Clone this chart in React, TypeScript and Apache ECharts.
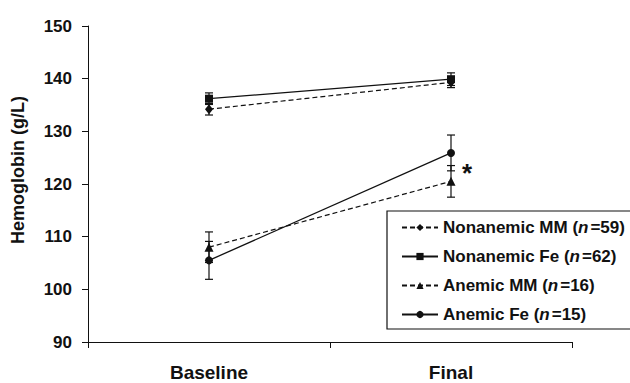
import React, { useEffect, useRef } from 'react';
import * as echarts from 'echarts';

const categories = ['Baseline', 'Final'];
const yMin = 90;
const yMax = 150;
const yInterval = 10;

const seriesLabels = ['Nonanemic MM', 'Nonanemic Fe', 'Anemic MM', 'Anemic Fe'];
const seriesN = [59, 62, 16, 15];

const nonanemicMM = [134.2, 139.3];
const nonanemicMMErr = [1.1, 1.0];
const nonanemicFe = [136.2, 139.9];
const nonanemicFeErr = [1.1, 1.2];
const anemicMM = [108.0, 120.5];
const anemicMMErr = [2.9, 3.0];
const anemicFe = [105.5, 125.9];
const anemicFeErr = [3.6, 3.4];

const FONT = "'Liberation Sans', Arial, Helvetica, sans-serif";
const INK = '#111';

export default function App() {
  const ref = useRef<HTMLDivElement>(null);

  useEffect(() => {
    if (!ref.current) return;
    const chart = echarts.init(ref.current, null, { renderer: 'svg' });

    const groups = [
      { name: seriesLabels[0], values: nonanemicMM, errs: nonanemicMMErr, symbol: 'diamond', size: [8, 10], dashed: true },
      { name: seriesLabels[1], values: nonanemicFe, errs: nonanemicFeErr, symbol: 'rect', size: 8, dashed: false },
      { name: seriesLabels[2], values: anemicMM, errs: anemicMMErr, symbol: 'triangle', size: 9, dashed: true },
      { name: seriesLabels[3], values: anemicFe, errs: anemicFeErr, symbol: 'circle', size: 8, dashed: false },
    ];

    const errData: number[][] = [];
    groups.forEach((g) => {
      g.values.forEach((v, i) => {
        errData.push([i, v - g.errs[i], v + g.errs[i]]);
      });
    });

    const lineSeries = groups.map((g) => ({
      type: 'line',
      name: g.name,
      data: g.values,
      symbol: g.symbol,
      symbolSize: g.size,
      showAllSymbol: true,
      z: 3,
      itemStyle: { color: INK },
      lineStyle: {
        color: INK,
        width: g.dashed ? 1.2 : 1.3,
        type: g.dashed ? [5, 3] : 'solid',
      },
    }));

    const option: any = {
      animation: false,
      backgroundColor: '#fff',
      grid: { left: 88, top: 26, right: 58, bottom: 41 },
      xAxis: {
        type: 'category',
        data: categories,
        boundaryGap: true,
        axisLine: { lineStyle: { color: INK, width: 1 } },
        axisTick: { show: true, length: 6, lineStyle: { color: INK } },
        axisLabel: {
          margin: 21,
          color: INK,
          fontFamily: FONT,
          fontWeight: 'bold',
          fontSize: 19,
        },
        splitLine: { show: false },
      },
      yAxis: {
        type: 'value',
        min: yMin,
        max: yMax,
        interval: yInterval,
        axisLine: { show: true, lineStyle: { color: INK, width: 1 } },
        axisTick: { show: true, length: 6, lineStyle: { color: INK } },
        axisLabel: {
          margin: 16,
          color: INK,
          fontFamily: FONT,
          fontWeight: 'bold',
          fontSize: 17,
        },
        splitLine: { show: false },
      },
      legend: {
        data: seriesLabels,
        orient: 'vertical',
        left: 387,
        top: 211,
        padding: [8, 30, 6, 14],
        itemWidth: 36,
        itemHeight: 9,
        itemGap: 12,
        borderColor: INK,
        borderWidth: 1.2,
        backgroundColor: '#fff',
        selectedMode: false,
        formatter: (name: string) => {
          const idx = seriesLabels.indexOf(name);
          return `{b|${name} (}{i|n}{b|=${seriesN[idx]})}`;
        },
        textStyle: {
          color: INK,
          fontFamily: FONT,
          fontWeight: 'bold',
          fontSize: 17,
          rich: {
            b: { color: INK, fontFamily: FONT, fontWeight: 'bold', fontSize: 17 },
            i: { color: INK, fontFamily: FONT, fontWeight: 'bold', fontStyle: 'italic', fontSize: 17, padding: [0, 2, 0, 0] },
          },
        },
      },
      graphic: [
        {
          type: 'text',
          x: 18,
          y: 170,
          rotation: Math.PI / 2,
          style: {
            text: 'Hemoglobin (g/L)',
            fill: INK,
            font: `bold 18px ${FONT}`,
            textAlign: 'center',
            textVerticalAlign: 'middle',
          },
        },
        {
          type: 'text',
          x: 467,
          y: 173,
          style: {
            text: '*',
            fill: INK,
            font: `bold 26px ${FONT}`,
            textAlign: 'center',
            textVerticalAlign: 'middle',
          },
        },
      ],
      series: [
        {
          type: 'custom',
          name: 'errors',
          data: errData,
          z: 2,
          encode: { x: 0, y: [1, 2] },
          renderItem: (params: any, api: any) => {
            const x = api.value(0);
            const pLo = api.coord([x, api.value(1)]);
            const pHi = api.coord([x, api.value(2)]);
            const hw = 4;
            const style = { stroke: INK, lineWidth: 1.2 };
            return {
              type: 'group',
              children: [
                { type: 'line', shape: { x1: pLo[0], y1: pLo[1], x2: pHi[0], y2: pHi[1] }, style },
                { type: 'line', shape: { x1: pLo[0] - hw, y1: pLo[1], x2: pLo[0] + hw, y2: pLo[1] }, style },
                { type: 'line', shape: { x1: pHi[0] - hw, y1: pHi[1], x2: pHi[0] + hw, y2: pHi[1] }, style },
              ],
            };
          },
        },
        ...lineSeries,
      ],
    };

    chart.setOption(option);
    return () => chart.dispose();
  }, []);

  return <div ref={ref} style={{ width: 630, height: 383, position: 'absolute', left: 0, top: 0 }} />;
}
